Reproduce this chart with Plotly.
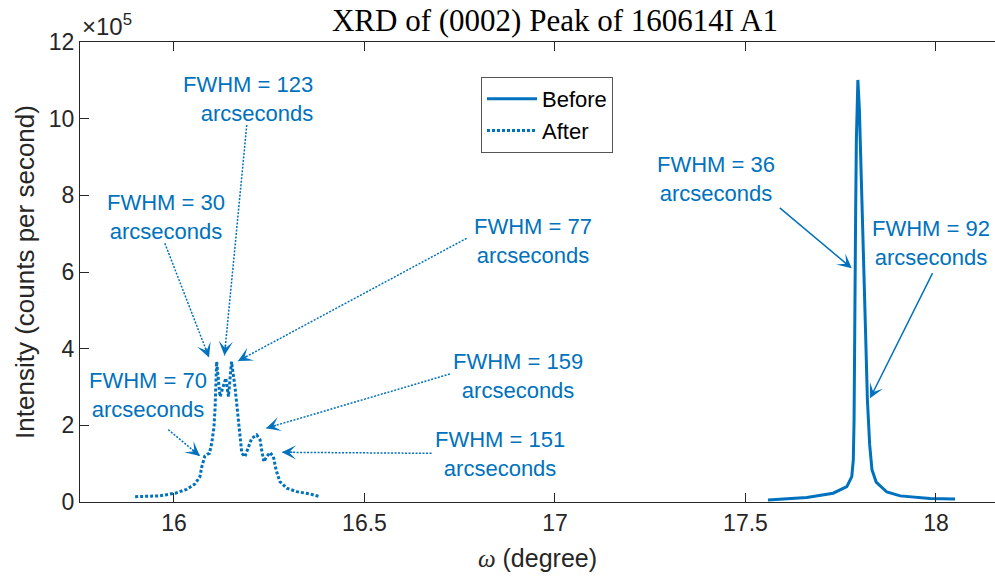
import math
import plotly.graph_objects as go

# ---------------------------------------------------------------------------
# Rocking-curve data, omega in degrees, intensity in units of 1e5 counts/s
# ---------------------------------------------------------------------------
before_omega = [17.559, 17.661, 17.730, 17.766, 17.779, 17.783, 17.785, 17.786,
                17.789, 17.791, 17.795, 17.799, 17.803, 17.808, 17.815, 17.820,
                17.826, 17.832, 17.843, 17.871, 17.906, 17.984, 18.050]
before_intensity = [0.05, 0.12, 0.23, 0.40, 0.66, 1.10, 2.14, 4.23,
                    7.36, 9.44, 11.01, 10.23, 8.66, 6.57, 4.49, 2.66,
                    1.49, 0.84, 0.52, 0.26, 0.16, 0.09, 0.08]

after_omega = [15.898, 15.963, 16.003, 16.033, 16.055, 16.068, 16.073, 16.081,
               16.088, 16.093, 16.099, 16.105, 16.108, 16.110, 16.112, 16.121,
               16.136, 16.143, 16.151, 16.160, 16.165, 16.171, 16.175, 16.178,
               16.186, 16.195, 16.204, 16.217, 16.226, 16.230, 16.236, 16.243,
               16.252, 16.261, 16.268, 16.278, 16.296, 16.322, 16.357, 16.383]
after_intensity = [0.14, 0.16, 0.23, 0.33, 0.47, 0.66, 0.92, 1.20,
                   1.25, 1.27, 1.53, 1.97, 2.49, 3.10, 3.66, 2.75,
                   3.23, 2.75, 3.66, 3.01, 2.49, 2.05, 1.62, 1.27,
                   1.18, 1.44, 1.66, 1.75, 1.62, 1.36, 1.05, 1.18,
                   1.29, 1.18, 0.83, 0.53, 0.36, 0.27, 0.21, 0.14]

series_names = ["Before", "After"]

x_tick_values = [16, 16.5, 17, 17.5, 18]
x_tick_labels = ["16", "16.5", "17", "17.5", "18"]
y_tick_values = [0, 2, 4, 6, 8, 10, 12]
y_tick_labels = ["0", "2", "4", "6", "8", "10", "12"]

# FWHM callouts: label text, text anchor, arrow tail and arrow tip
fwhm_values = [123, 30, 77, 70, 159, 151, 36, 92]
fwhm_text_x = [16.370, 15.979, 16.942, 15.933, 16.903, 16.856, 17.423, 17.987]
fwhm_text_y = [10.51, 7.44, 6.81, 2.80, 3.29, 1.25, 8.43, 6.76]
fwhm_text_anchor = ["right", "center", "center", "center", "center", "center", "center", "center"]
arrow_tail_x = [16.191, 15.976, 16.768, 15.985, 16.724, 16.676, 17.586, 17.993]
arrow_tail_y = [9.835, 6.749, 6.879, 1.886, 3.339, 1.270, 7.704, 6.008]
arrow_tip_x = [16.1325, 16.092, 16.168, 16.068, 16.2415, 16.283, 17.779, 17.827]
arrow_tip_y = [3.822, 3.770, 3.678, 1.200, 1.923, 1.297, 6.097, 2.705]
arrow_style = ["dot", "dot", "dot", "dot", "dot", "dot", "solid", "solid"]

# ---------------------------------------------------------------------------
BLUE = "#0072BD"
AXIS = "#262626"
SANS = "Liberation Sans, Arial, sans-serif"
SERIF = "Liberation Serif, Times New Roman, serif"

W, H = 995, 577
M_L, M_R, M_T, M_B = 80, 0, 42, 75
X_RANGE = [15.7533, 18.1549]
Y_RANGE = [0, 12]
px_per_x = (W - M_L - M_R) / (X_RANGE[1] - X_RANGE[0])
px_per_y = (H - M_T - M_B) / (Y_RANGE[1] - Y_RANGE[0])

fig = go.Figure()
fig.add_trace(go.Scatter(
    x=before_omega, y=before_intensity, mode="lines", name=series_names[0],
    line=dict(color=BLUE, width=3, dash="solid"),
))
fig.add_trace(go.Scatter(
    x=after_omega, y=after_intensity, mode="lines", name=series_names[1],
    line=dict(color=BLUE, width=3, dash="3px,2px"),
))

annotations = []
shapes = []
for i, val in enumerate(fwhm_values):
    anchor = fwhm_text_anchor[i]
    annotations.append(dict(
        x=fwhm_text_x[i], y=fwhm_text_y[i], xref="x", yref="y",
        text=f"FWHM = {val}<br>arcseconds", showarrow=False,
        xanchor=anchor, yanchor="middle", align=anchor,
        font=dict(family=SANS, size=22, color=BLUE),
    ))
    if arrow_style[i] == "solid":
        annotations.append(dict(
            x=arrow_tip_x[i], y=arrow_tip_y[i], xref="x", yref="y",
            ax=arrow_tail_x[i], ay=arrow_tail_y[i], axref="x", ayref="y",
            text="", showarrow=True, arrowhead=3, arrowsize=1.6,
            arrowwidth=1.5, arrowcolor=BLUE,
        ))
    else:
        shapes.append(dict(
            type="line", xref="x", yref="y",
            x0=arrow_tail_x[i], y0=arrow_tail_y[i],
            x1=arrow_tip_x[i], y1=arrow_tip_y[i],
            line=dict(color=BLUE, width=1.5, dash="2px,1.5px"),
        ))
        # short solid stub carrying the arrowhead at the tip
        dx = (arrow_tail_x[i] - arrow_tip_x[i]) * px_per_x
        dy = -(arrow_tail_y[i] - arrow_tip_y[i]) * px_per_y
        n = math.hypot(dx, dy)
        stub = 12
        annotations.append(dict(
            x=arrow_tip_x[i], y=arrow_tip_y[i], xref="x", yref="y",
            ax=dx / n * stub, ay=dy / n * stub,
            text="", showarrow=True, arrowhead=3, arrowsize=1.6,
            arrowwidth=1.5, arrowcolor=BLUE,
        ))

# axis exponent label
annotations.append(dict(
    x=0, y=1, xref="paper", yref="paper", xanchor="left", yanchor="bottom",
    xshift=0, yshift=0, text="×10<sup>5</sup>", showarrow=False,
    font=dict(family=SANS, size=24, color=AXIS),
))

fig.update_layout(
    width=W, height=H,
    margin=dict(l=M_L, r=M_R, t=M_T, b=M_B, pad=0),
    paper_bgcolor="white", plot_bgcolor="white",
    title=dict(
        text="XRD of (0002) Peak of 160614I A1",
        x=555 / W, xref="container", xanchor="center",
        y=1 - 20 / H, yref="container", yanchor="middle",
        font=dict(family=SERIF, size=31, color="black"),
    ),
    showlegend=True,
    legend=dict(
        x=(481 - M_L) / (W - M_L - M_R), y=(H - M_B - 77) / (H - M_T - M_B),
        xanchor="left", yanchor="top",
        bgcolor="white", bordercolor="#555555", borderwidth=1,
        font=dict(family=SANS, size=22, color="black"),
        tracegroupgap=0, itemwidth=50,
    ),
    annotations=annotations,
    shapes=shapes,
)

fig.update_xaxes(
    range=X_RANGE, tickvals=x_tick_values, ticktext=x_tick_labels,
    showgrid=False, zeroline=False,
    showline=True, linecolor=AXIS, linewidth=1, mirror="ticks",
    ticks="inside", ticklen=9, tickcolor=AXIS, tickwidth=1,
    tickfont=dict(family=SANS, size=23, color=AXIS),
    title=dict(
        text="<span style=\"font-family:Liberation Serif;font-style:italic\">ω</span> (degree)",
        font=dict(family=SANS, size=25, color=AXIS), standoff=14,
    ),
)
fig.update_yaxes(
    range=Y_RANGE, tickvals=y_tick_values, ticktext=y_tick_labels,
    showgrid=False, zeroline=False,
    showline=True, linecolor=AXIS, linewidth=1, mirror=False,
    ticks="inside", ticklen=9, tickcolor=AXIS, tickwidth=1,
    tickfont=dict(family=SANS, size=23, color=AXIS),
    title=dict(
        text="Intensity (counts per second)",
        font=dict(family=SANS, size=26, color=AXIS), standoff=6,
    ),
)

fig.write_html("out.html")
